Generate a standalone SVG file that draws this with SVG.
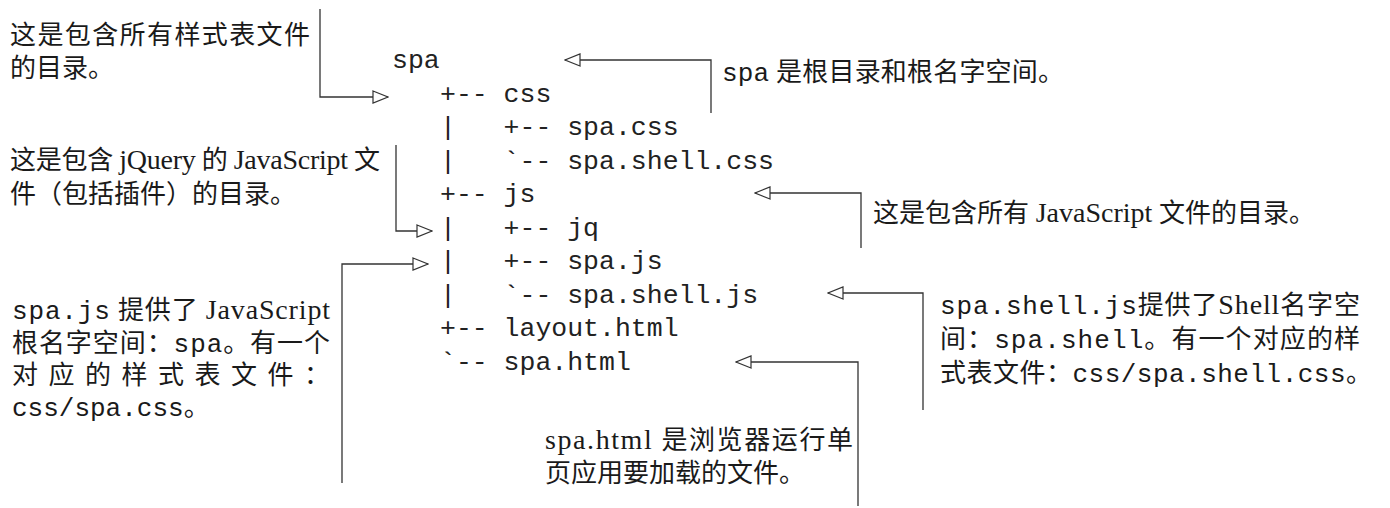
<svg xmlns="http://www.w3.org/2000/svg" width="1390" height="508" viewBox="0 0 1390 508">
<style>
.c{font-family:"Liberation Serif","Noto Sans CJK SC",serif;font-size:26px;fill:#1a1a1a}
.s{font-family:"Liberation Serif",serif;font-size:28px}
.m{font-family:"Liberation Mono","Noto Sans CJK SC",monospace;font-size:26px}
.t{font-family:"Liberation Mono",monospace;font-size:26.5px;fill:#222;white-space:pre}
.ln{fill:none;stroke:#333;stroke-width:1.3;marker-end:url(#ah)}
</style>
<defs>
<marker id="ah" markerUnits="userSpaceOnUse" markerWidth="17" markerHeight="14" viewBox="0 0 17 14" refX="16" refY="7" orient="auto">
<path d="M1,1 L16,7 L1,13 Z" fill="#fff" stroke="#333" stroke-width="1.2"/>
</marker>
</defs>
<rect width="1390" height="508" fill="#fff"/>

<g id="connectors">
<path class="ln" d="M320,9 V97 H388"/>
<path class="ln" d="M711,113 V60 H565"/>
<path class="ln" d="M396,145 V231 H432"/>
<path class="ln" d="M342,483 V264 H428"/>
<path class="ln" d="M861,248 V193 H755"/>
<path class="ln" d="M923,410 V293 H828"/>
<path class="ln" d="M858,506 V362 H736"/>
</g>

<g id="tree">
<g id="n-spa"><text class="t" x="392" y="68">spa</text></g>
<g id="n-css"><text class="t" x="440" y="101.5" xml:space="preserve">+-- css</text></g>
<g id="n-spa-css"><text class="t" x="440" y="135" xml:space="preserve">|   +-- spa.css</text></g>
<g id="n-spa-shell-css"><text class="t" x="440" y="168.5" xml:space="preserve">|   `-- spa.shell.css</text></g>
<g id="n-js"><text class="t" x="440" y="202" xml:space="preserve">+-- js</text></g>
<g id="n-jq"><text class="t" x="440" y="235.5" xml:space="preserve">|   +-- jq</text></g>
<g id="n-spa-js"><text class="t" x="440" y="269" xml:space="preserve">|   +-- spa.js</text></g>
<g id="n-spa-shell-js"><text class="t" x="440" y="302.5" xml:space="preserve">|   `-- spa.shell.js</text></g>
<g id="n-layout"><text class="t" x="440" y="336" xml:space="preserve">+-- layout.html</text></g>
<g id="n-spa-html"><text class="t" x="440" y="369.5" xml:space="preserve">`-- spa.html</text></g>
</g>

<g id="note-css">
<text class="c" x="10" y="44" textLength="300" lengthAdjust="spacing">这是包含所有样式表文件</text>
<text class="c" x="10" y="77">的目录。</text>
</g>

<g id="note-root">
<text class="c" x="722" y="81" textLength="342" lengthAdjust="spacing"><tspan class="m">spa</tspan> 是根目录和根名字空间。</text>
</g>

<g id="note-jq">
<text class="c" x="10" y="169" textLength="370" lengthAdjust="spacing">这是包含 <tspan class="s">jQuery</tspan> 的 <tspan class="s">JavaScript</tspan> 文</text>
<text class="c" x="10" y="203">件（包括插件）的目录。</text>
</g>

<g id="note-js">
<text class="c" x="873" y="222" textLength="442" lengthAdjust="spacing">这是包含所有 <tspan class="s">JavaScript</tspan> 文件的目录。</text>
</g>

<g id="note-spajs">
<text class="c" x="12" y="319" textLength="318" lengthAdjust="spacing"><tspan class="m">spa.js</tspan> 提供了 <tspan class="s">JavaScript</tspan></text>
<text class="c" x="12" y="352" textLength="318" lengthAdjust="spacing">根名字空间：<tspan class="m">spa</tspan>。有一个</text>
<text class="c" x="12" y="384" textLength="318" lengthAdjust="spacing">对应的样式表文件：</text>
<text class="c" x="12" y="416"><tspan class="m">css/spa.css</tspan>。</text>
</g>

<g id="note-shelljs">
<text class="c" x="940" y="314" textLength="420" lengthAdjust="spacing"><tspan class="m">spa.shell.js</tspan>提供了<tspan class="s">Shell</tspan>名字空</text>
<text class="c" x="940" y="348" textLength="420" lengthAdjust="spacing">间：<tspan class="m">spa.shell</tspan>。有一个对应的样</text>
<text class="c" x="940" y="382" textLength="432" lengthAdjust="spacing">式表文件：<tspan class="m">css/spa.shell.css</tspan>。</text>
</g>

<g id="note-html">
<text class="c" x="545" y="449" textLength="308" lengthAdjust="spacing"><tspan class="s">spa.html</tspan>  是浏览器运行单</text>
<text class="c" x="545" y="482">页应用要加载的文件。</text>
</g>
</svg>
